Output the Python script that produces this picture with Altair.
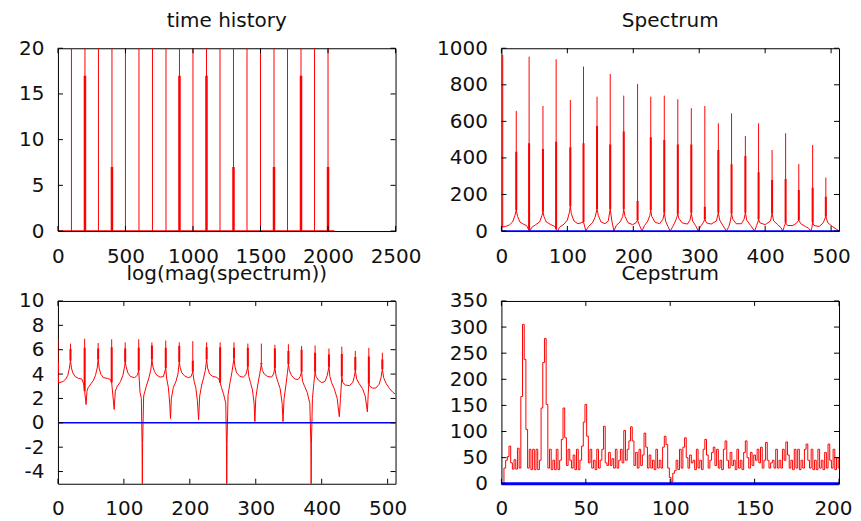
import altair as alt
import pandas as pd

FONT = "DejaVu Sans"
TXT = "#111111"
RED = "#ff0000"
BLUE = "#0000ff"
TICK = "#000000"
W, H = 338, 183
LS = 20
TS = 20

# ---------------- time history ----------------
time_length = [0, 2048]
pulse_x = [100, 200, 300, 400, 500, 600, 700, 800, 900, 1000,
           1100, 1200, 1300, 1400, 1500, 1600, 1700, 1800, 1900, 2000]
pulse_h = [20, 20, 20, 20, 20, 20, 20, 20, 20, 20,
           20, 20, 20, 20, 20, 20, 20, 20, 20, 20]
sub_pulse_x = [200, 400, 900, 1100, 1300, 1600, 1800, 2000]
sub_pulse_h = [17, 7, 17, 17, 7, 7, 17, 7]
time_xticks = [0, 500, 1000, 1500, 2000, 2500]
time_yticks = [0, 5, 10, 15, 20]

# ---------------- spectrum ----------------
spec_floor = [
    (0, 20), (2, 22), (6, 25), (12, 33), (17, 50), (20.5, 85), (22.5, 115), (24.5, 80), (28, 50),
    (33, 38), (38, 30), (41, 10), (42, 5), (43.5, 2), (46, 20), (52, 35), (58, 50), (61.5, 85),
    (63, 105), (64.5, 80), (68, 50), (75, 35), (81, 25), (83, 10), (85.3, 0), (88, 20), (95, 38),
    (100, 60), (103, 100), (104.5, 135), (106, 95), (110, 55), (116, 40), (121, 45), (124.5, 50),
    (128, 0), (132, 25), (138, 45), (142, 75), (145, 120), (147, 85), (151, 50), (157, 40), (162, 55),
    (165, 120), (167.5, 55), (170.7, 0), (174, 30), (180, 50), (184, 80), (185.5, 120), (187.5, 80),
    (192, 45), (199, 35), (204, 45), (206.5, 60), (209.5, 30), (213.3, 0), (217, 30), (222, 55),
    (225, 85), (226.5, 115), (228, 80), (233, 48), (240, 40), (245, 65), (247, 100), (249, 55),
    (252.5, 25), (256, 0), (260, 25), (264, 55), (266, 75), (267.5, 95), (269, 70), (274, 45),
    (282, 38), (286, 60), (288, 100), (290, 55), (294.5, 30), (298.7, 0), (302, 25), (306, 45),
    (308.5, 65), (311, 45), (318, 38), (326, 55), (329, 100), (331, 60), (336, 30), (341.3, 0),
    (345, 25), (347.5, 60), (349, 95), (351, 65), (356, 40), (364, 40), (368, 65), (370, 100),
    (372, 60), (378, 30), (384, 0), (387, 30), (389, 50), (390, 65), (392, 45), (400, 35), (408, 55),
    (410.5, 95), (413, 55), (419, 35), (424, 18), (426.7, 0), (429, 25), (431, 45), (434, 30),
    (442, 30), (448, 45), (451, 60), (454, 40), (461, 25), (466, 15), (469.3, 0), (471, 20),
    (472, 50), (474, 30), (482, 25), (488, 45), (492, 80), (495, 45), (502, 25), (508, 10), (512, 0),
]
spec_peak_x = [2, 22.5, 42, 63, 83, 104.5, 124.5, 145, 165, 185.5, 206.5, 226.5, 247,
               267.5, 288, 308.5, 329, 349, 370, 390, 410.5, 431, 451, 472, 492]
spec_peak_top = [963, 657, 954, 684, 940, 717, 900, 735, 859, 741, 805, 735, 741,
                 721, 672, 684, 589, 644, 520, 589, 443, 535, 367, 471, 292]
spec_sub_top = [22, 434, 480, 449, 489, 458, 480, 575, 474, 544, 164, 513, 498,
                474, 474, 133, 443, 365, 411, 321, 279, 285, 224, 237, 188]
spec_xticks = [0, 100, 200, 300, 400, 500]
spec_yticks = [0, 200, 400, 600, 800, 1000]

# ---------------- log(mag(spectrum)) ----------------
log_floor = [
    (0, 3.3), (3, 3.3), (8, 3.4), (12, 3.6), (15, 3.9), (17, 4.4), (19, 5.1), (20.5, 4.5), (22.5, 4.1),
    (26, 3.8), (31, 3.65), (36, 3.6), (39, 3.2), (40.5, 2.6), (42.7, 1.5), (44, 2.6), (46, 2.9),
    (50, 3.2), (54, 3.5), (57, 3.9), (59.5, 4.5), (61, 5.2), (62.5, 4.5), (65, 4.0), (69, 3.7),
    (75, 3.65), (79.5, 3.55), (81.5, 3.3), (85.3, 1.1), (87, 2.6), (90, 3.0), (95, 3.4), (98.5, 3.9),
    (101, 4.6), (102, 5.0), (103.5, 4.6), (106, 4.1), (110, 3.8), (116, 3.7), (120.5, 3.9),
    (122.5, 4.3), (124.5, 2.5), (126.5, 2.0), (127.6, -1.7), (128, -5.5), (128.4, -1.7), (130, 2.2),
    (134, 3.0), (138, 3.7), (141, 4.4), (142.5, 5.2), (144, 4.6), (146.5, 4.2), (150, 3.9),
    (155, 3.75), (160, 3.8), (163.5, 4.5), (165, 3.6), (167.5, 2.9), (169.5, 1.6), (170.7, 0.35),
    (172, 2.0), (175, 2.9), (179, 3.4), (182, 4.0), (184, 5.0), (185.5, 4.5), (188, 4.1), (192, 3.85),
    (198, 3.7), (202, 3.8), (204.5, 4.2), (206.5, 3.4), (209, 2.9), (211.5, 1.8), (213.3, 0.25),
    (215, 2.2), (218, 3.1), (221, 3.7), (223.5, 4.3), (225.5, 5.2), (227, 4.5), (230, 4.0), (235, 3.8),
    (240, 3.75), (244, 3.6), (246, 3.3), (248, 2.9), (251, 2.4), (254.5, 1.6), (255.6, -1.8),
    (256, -5.5), (256.4, -1.8), (258, 2.3), (261, 3.3), (264, 4.2), (267, 5.3), (268.5, 4.6),
    (271, 4.1), (276, 3.8), (281, 3.75), (285, 3.95), (288, 4.6), (289.5, 3.8), (292, 3.3), (295, 2.7),
    (297.5, 1.6), (298.7, 0.1), (300, 2.0), (303, 3.1), (306, 4.0), (308.5, 4.8), (310, 4.3),
    (313, 4.0), (318, 3.8), (324, 3.75), (327, 4.0), (329, 4.5), (331, 3.8), (334, 3.3), (337, 2.8),
    (340, 1.6), (341.3, 0.1), (343, 2.0), (346, 3.2), (348, 4.1), (349.5, 4.8), (351, 4.3), (354, 3.9),
    (359, 3.6), (364, 3.55), (367.5, 3.8), (369.5, 4.2), (371, 3.4), (374, 3.0), (378, 2.5),
    (382, 1.6), (383.6, -1.8), (384, -5.5), (384.4, -1.8), (386, 2.0), (388, 3.2), (390, 4.2),
    (391.5, 3.8), (395, 3.5), (400, 3.3), (405, 3.4), (408.5, 3.9), (411, 4.6), (412.5, 3.8),
    (415, 3.3), (419, 2.8), (423.5, 2.0), (426.7, 0.5), (428.5, 2.0), (430.5, 3.8), (432, 3.3),
    (436, 3.1), (442, 3.05), (447, 3.3), (449.5, 3.8), (451, 4.3), (453, 3.6), (457, 3.2), (462, 2.8),
    (466, 2.2), (469.3, 0.9), (470.5, 2.3), (471.5, 3.2), (473, 3.0), (477, 2.85), (482, 2.85),
    (487, 3.15), (490, 3.7), (492, 4.4), (494, 3.7), (498, 3.2), (503, 2.8), (508, 2.5), (512, 2.35),
]
log_peak_x = [0, 19, 40.5, 61, 81.5, 102, 122.5, 142.5, 163.5, 184, 204.5, 225.5, 246,
              267, 288, 308.5, 329, 349.5, 369.5, 390, 411, 430.5, 451, 471.5, 492]
log_peak_top = [6.9, 6.5, 6.9, 6.55, 6.85, 6.6, 6.85, 6.6, 6.75, 6.6, 6.7, 6.6, 6.6,
                6.6, 6.5, 6.5, 6.4, 6.45, 6.3, 6.35, 6.1, 6.25, 5.9, 6.15, 5.75]
log_sub_top = [5.0, 6.05, 6.15, 6.1, 6.2, 6.1, 6.15, 6.35, 6.15, 6.3, 5.1, 6.2, 6.2,
               6.15, 6.15, 4.9, 6.1, 5.9, 6.0, 5.75, 5.6, 5.65, 5.4, 5.45, 5.2]
log_xticks = [0, 100, 200, 300, 400, 500]
log_yticks = [-4, -2, 0, 2, 4, 6, 8, 10]

# ---------------- cepstrum ----------------
cepstrum = [
    0, 0, 30, 45, 52, 72, 40, 28, 46, 28,
    68, 30, 167, 305, 238, 104, 30, 66, 27, 66,
    27, 66, 27, 45, 145, 232, 278, 152, 30, 66,
    27, 45, 27, 66, 27, 45, 85, 145, 88, 35,
    66, 45, 30, 55, 27, 66, 27, 45, 72, 118,
    152, 91, 40, 66, 30, 45, 27, 66, 30, 45,
    66, 110, 40, 35, 60, 35, 48, 30, 66, 30,
    45, 66, 40, 102, 45, 66, 82, 109, 82, 35,
    60, 30, 66, 35, 55, 97, 70, 30, 55, 30,
    45, 27, 66, 30, 45, 30, 70, 91, 75, 30,
    12, 3, 20, 25, 45, 27, 66, 30, 70, 88,
    50, 30, 55, 40, 45, 27, 66, 30, 45, 27,
    66, 85, 55, 30, 45, 60, 70, 35, 66, 30,
    45, 27, 66, 82, 45, 30, 60, 35, 45, 27,
    66, 30, 45, 27, 60, 82, 50, 30, 60, 35,
    55, 45, 66, 40, 70, 30, 45, 79, 45, 30,
    40, 45, 30, 66, 30, 45, 30, 66, 45, 80,
    55, 30, 45, 27, 66, 30, 66, 27, 45, 30,
    66, 76, 45, 30, 66, 27, 45, 27, 66, 30,
    45, 27, 60, 30, 76, 45, 30, 66, 27, 50,
    30,
]
ceps_xticks = [0, 50, 100, 150, 200]
ceps_yticks = [0, 50, 100, 150, 200, 250, 300, 350]

zero_level = [0]


def panel(title, xdom, xt, ydom, yt, builders, last_x_right=False):
    xs = alt.Scale(domain=xdom, nice=False, zero=False)
    ys = alt.Scale(domain=ydom, nice=False, zero=False)
    extra = {}
    if last_x_right:
        test = "datum.value >= %s" % xt[-1]
        extra["labelAlign"] = {"condition": {"test": test, "value": "right"}, "value": "center"}
        extra["labelOffset"] = {"condition": {"test": test, "value": 13}, "value": 0}
    xa = alt.Axis(values=xt, title=None, ticks=False, tickSize=0, domain=False, grid=False,
                  labelFont=FONT, labelFontSize=LS, labelColor=TXT, labelPadding=15,
                  labelFlush=False, labelOverlap=False, labelExpr="'' + datum.value", **extra)
    ya = alt.Axis(values=yt, title=None, ticks=False, tickSize=0, domain=False, grid=False,
                  labelFont=FONT, labelFontSize=LS, labelColor=TXT, labelPadding=14,
                  labelFlush=False, labelOverlap=False, labelExpr="'' + datum.value")
    layers = [b(xs, ys, xa, ya) for b in builders]
    xdf = pd.DataFrame({"x": xt})
    ydf = pd.DataFrame({"y": yt})
    layers.append(alt.Chart(xdf).mark_rule(color=TICK, strokeWidth=1).encode(
        x=alt.X("x:Q", scale=xs, axis=xa), y=alt.value(H), y2=alt.value(H - 5)))
    layers.append(alt.Chart(xdf).mark_rule(color=TICK, strokeWidth=1).encode(
        x=alt.X("x:Q", scale=xs, axis=xa), y=alt.value(0), y2=alt.value(5)))
    layers.append(alt.Chart(ydf).mark_rule(color=TICK, strokeWidth=1).encode(
        y=alt.Y("y:Q", scale=ys, axis=ya), x=alt.value(0), x2=alt.value(5)))
    layers.append(alt.Chart(ydf).mark_rule(color=TICK, strokeWidth=1).encode(
        y=alt.Y("y:Q", scale=ys, axis=ya), x=alt.value(W), x2=alt.value(W - 5)))
    return alt.layer(*layers).properties(
        width=W, height=H,
        title=alt.TitleParams(text=title, font=FONT, fontSize=TS, fontWeight="normal",
                              color=TXT, offset=7, frame="group", anchor="middle"))


def line_layer(points, color=RED, width=1, interp=None):
    df = pd.DataFrame({"x": [p[0] for p in points], "y": [p[1] for p in points]})
    df["o"] = range(len(df))

    def build(xs, ys, xa, ya):
        kw = dict(color=color, strokeWidth=width, clip=True)
        if interp:
            kw["interpolate"] = interp
        return alt.Chart(df).mark_line(**kw).encode(
            x=alt.X("x:Q", scale=xs, axis=xa), y=alt.Y("y:Q", scale=ys, axis=ya), order="o:Q")
    return build


def rule_layer(xv, lo, hi, color=RED, width=1):
    df = pd.DataFrame({"x": xv, "y": lo, "y2": hi})

    def build(xs, ys, xa, ya):
        return alt.Chart(df).mark_rule(color=color, strokeWidth=width, clip=True).encode(
            x=alt.X("x:Q", scale=xs, axis=xa), y=alt.Y("y:Q", scale=ys, axis=ya), y2="y2:Q")
    return build


def zero_layer(width):
    df = pd.DataFrame({"y": zero_level})

    def build(xs, ys, xa, ya):
        return alt.Chart(df).mark_rule(color=BLUE, strokeWidth=width).encode(
            y=alt.Y("y:Q", scale=ys, axis=ya))
    return build


# time history
p1 = panel("time history", [0, 2500], time_xticks, [0, 20], time_yticks, [
    line_layer([(time_length[0], 0), (time_length[1], 0)], width=1.5),
    rule_layer(pulse_x, [0] * len(pulse_x), pulse_h, width=1),
    rule_layer(sub_pulse_x, [0] * len(sub_pulse_x), sub_pulse_h, width=2.5),
])

# spectrum
spec_base_lookup = dict(spec_floor)
spec_base = [spec_base_lookup[p] for p in spec_peak_x]
p2 = panel("Spectrum", [0, 512], spec_xticks, [0, 1000], spec_yticks, [
    line_layer(spec_floor),
    rule_layer(spec_peak_x, spec_base, spec_peak_top, width=1),
    rule_layer(spec_peak_x, spec_base, spec_sub_top, width=2),
    zero_layer(1.5),
])

# log spectrum
log_base_lookup = dict(log_floor)
log_base = [log_base_lookup[p] for p in log_peak_x]
p3 = panel("log(mag(spectrum))", [0, 512], log_xticks, [-5, 10], log_yticks, [
    line_layer(log_floor),
    rule_layer(log_peak_x, log_base, log_peak_top, width=1),
    rule_layer(log_peak_x, log_base, log_sub_top, width=2),
    zero_layer(1.5),
])

# cepstrum
p4 = panel("Cepstrum", [0, 200], ceps_xticks, [0, 350], ceps_yticks, [
    line_layer(list(zip(range(len(cepstrum)), cepstrum)), interp="step"),
    zero_layer(3),
], last_x_right=True)

chart = alt.concat(p1, p2, p3, p4, columns=2, spacing={"row": 70, "column": 106},
                   bounds="flush").properties(
    padding={"left": 10, "top": 2, "right": 0, "bottom": 0},
    background="white",
).configure_view(stroke="black", strokeWidth=1)

chart.save("out.html", embed_options={"renderer": "svg", "actions": False})
